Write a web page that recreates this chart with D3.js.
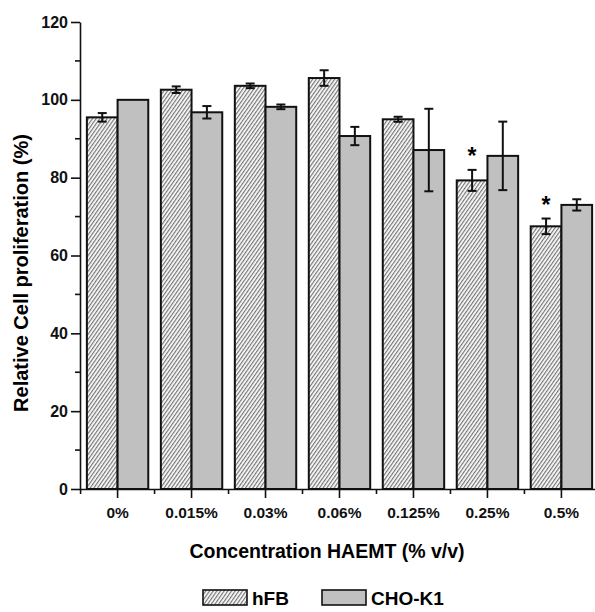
<!DOCTYPE html>
<html>
<head>
<meta charset="utf-8">
<script src="https://cdn.jsdelivr.net/npm/d3@7"></script>
<style>
  body { margin: 0; background: #fff; }
  svg { font-family: "Liberation Sans", Arial, sans-serif; font-weight: bold; }
</style>
</head>
<body>
<div id="chart"></div>
<script>
const categories = ["0%", "0.015%", "0.03%", "0.06%", "0.125%", "0.25%", "0.5%"];
const series = ["hFB", "CHO-K1"];
const hfbValues = [95.5, 102.6, 103.6, 105.6, 95.0, 79.3, 67.5];
const hfbErrors = [1.1, 0.85, 0.6, 2.0, 0.65, 2.7, 2.0];
const choValues = [100, 96.8, 98.2, 90.7, 87.1, 85.6, 73.0];
const choErrors = [0, 1.6, 0.6, 2.35, 10.6, 8.8, 1.45];
const significant = ["0.25%", "0.5%"];
const yTicks = [0, 20, 40, 60, 80, 100, 120];

const width = 595, height = 612;
const margin = { top: 22, right: -4, bottom: 123, left: 80 };

const svg = d3.select("#chart").append("svg")
    .attr("width", width)
    .attr("height", height);

const defs = svg.append("defs");
const pattern = defs.append("pattern")
    .attr("id", "hatch")
    .attr("patternUnits", "userSpaceOnUse")
    .attr("width", 3)
    .attr("height", 10)
    .attr("patternTransform", "rotate(35)");
pattern.append("rect").attr("width", 3).attr("height", 10).attr("fill", "#fff");
pattern.append("line")
    .attr("x1", 0.7).attr("y1", 0).attr("x2", 0.7).attr("y2", 10)
    .attr("stroke", "#555").attr("stroke-width", 1);

const x = d3.scaleBand()
    .domain(categories)
    .range([margin.left, width - margin.right])
    .paddingInner(0.17)
    .paddingOuter(0.093);

const xSub = d3.scaleBand()
    .domain(series)
    .range([0, x.bandwidth()]);

const y = d3.scaleLinear()
    .domain([0, 120])
    .range([height - margin.bottom, margin.top]);

const data = categories.map((c, i) => ({
    cat: c,
    bars: [
        { s: "hFB", v: hfbValues[i], e: hfbErrors[i] },
        { s: "CHO-K1", v: choValues[i], e: choErrors[i] }
    ]
}));

const fillFor = s => s === "hFB" ? "url(#hatch)" : "#c0c0c0";

const groups = svg.append("g").selectAll("g")
    .data(data)
    .enter().append("g")
    .attr("transform", d => `translate(${x(d.cat)},0)`);

groups.selectAll("rect")
    .data(d => d.bars)
    .enter().append("rect")
    .attr("x", d => xSub(d.s))
    .attr("y", d => y(d.v))
    .attr("width", xSub.bandwidth())
    .attr("height", d => y(0) - y(d.v))
    .attr("fill", d => fillFor(d.s))
    .attr("stroke", "#111")
    .attr("stroke-width", 2);

const errs = groups.selectAll("g.err")
    .data(d => d.bars.filter(b => b.e > 0))
    .enter().append("g")
    .attr("class", "err")
    .attr("stroke", "#111")
    .attr("stroke-width", 2);

const cx = d => xSub(d.s) + xSub.bandwidth() / 2;
errs.append("line")
    .attr("x1", cx).attr("x2", cx)
    .attr("y1", d => y(d.v + d.e)).attr("y2", d => y(d.v - d.e));
errs.append("line")
    .attr("x1", d => cx(d) - 4.5).attr("x2", d => cx(d) + 4.5)
    .attr("y1", d => y(d.v + d.e)).attr("y2", d => y(d.v + d.e));
errs.append("line")
    .attr("x1", d => cx(d) - 4.5).attr("x2", d => cx(d) + 4.5)
    .attr("y1", d => y(d.v - d.e)).attr("y2", d => y(d.v - d.e));

// significance stars
groups.filter(d => significant.includes(d.cat))
    .append("text")
    .attr("x", xSub("hFB") + xSub.bandwidth() / 2)
    .attr("y", d => y(d.bars[0].v + d.bars[0].e) - 6)
    .attr("text-anchor", "middle")
    .attr("font-size", 23)
    .text("*");

// y axis
const yAxis = svg.append("g")
    .attr("transform", `translate(${margin.left},0)`)
    .call(d3.axisLeft(y).tickValues(yTicks).tickSize(9).tickSizeOuter(0).tickPadding(3));
yAxis.append("g").selectAll("line")
    .data(d3.range(10, 120, 20))
    .enter().append("line")
    .attr("x1", -5).attr("x2", 0)
    .attr("y1", d => y(d)).attr("y2", d => y(d))
    .attr("stroke", "#111");
yAxis.selectAll("text").attr("font-size", 16).attr("font-weight", "bold").attr("font-family", null).attr("fill", "#111");
yAxis.selectAll("path, line").attr("stroke", "#111").attr("stroke-width", 1.6);

// x axis
const xAxis = svg.append("g")
    .attr("transform", `translate(0,${y(0)})`)
    .call(d3.axisBottom(x).tickSize(9).tickSizeOuter(0).tickPadding(9));
xAxis.append("g").selectAll("line")
    .data(categories)
    .enter().append("line")
    .attr("x1", d => x(d) - x.step() * x.paddingInner() / 2)
    .attr("x2", d => x(d) - x.step() * x.paddingInner() / 2)
    .attr("y1", 0).attr("y2", 5)
    .attr("stroke", "#111");
xAxis.selectAll("text").attr("font-size", 15.5).attr("font-weight", "bold").attr("font-family", null).attr("fill", "#111");
xAxis.selectAll("path, line").attr("stroke", "#111").attr("stroke-width", 1.6);

// titles
svg.append("text")
    .attr("transform", `translate(28,273) rotate(-90)`)
    .attr("text-anchor", "middle")
    .attr("font-size", 20)
    .text("Relative Cell proliferation (%)");

svg.append("text")
    .attr("x", 327)
    .attr("y", 558)
    .attr("text-anchor", "middle")
    .attr("font-size", 19.5)
    .text("Concentration HAEMT (% v/v)");

// legend
const legend = svg.append("g");
const legendX = [203, 322];
series.forEach((s, i) => {
    legend.append("rect")
        .attr("x", legendX[i]).attr("y", 590)
        .attr("width", 44).attr("height", 15)
        .attr("fill", fillFor(s))
        .attr("stroke", "#111")
        .attr("stroke-width", 1.6);
    legend.append("text")
        .attr("x", legendX[i] + 49).attr("y", 605)
        .attr("font-size", 19)
        .text(s);
});
</script>
</body>
</html>
